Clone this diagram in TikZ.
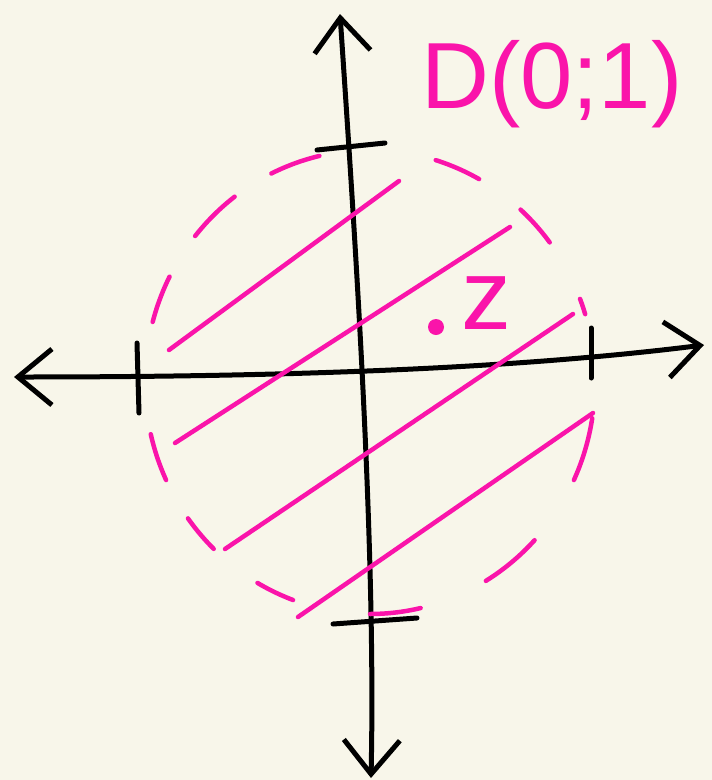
\documentclass[tikz,border=0pt]{standalone}
\usepackage{fontspec}
\setmainfont{Liberation Sans}
\usepackage{tikz}
\usetikzlibrary{arrows.meta, positioning}
\definecolor{paper}{RGB}{248,246,234}
\definecolor{pinkink}{RGB}{250,20,170}

\begin{document}
\begin{tikzpicture}[x=1pt, y=-1pt, >={Straight Barb[length=34pt, width=56pt]},
    line cap=round, line join=round,
    axis/.style={black, line width=5pt},
    ink/.style={pinkink, line width=4.5pt}]
        \fill[paper] (0,0) rectangle (712,780);
        \useasboundingbox (0,0) rectangle (712,780);
        \coordinate (xl) at (14,377);
        \coordinate (xr) at (704,345);
        \coordinate (yt) at (340,14);
        \coordinate (yb) at (371,778);
        \draw[axis, <->] (xl) .. controls (300,377) and (520,368) .. (xr);
        \draw[axis, <->] (yt) .. controls (356,250) and (376,550) .. (yb);
        % ticks
        \draw[axis] (137,343) -- (139,413); \draw[axis] (591,328) -- (591,378);
        \draw[axis] (317,150) -- (385,143); \draw[axis] (333,624) -- (417,618);
        % dashed rim of the disc
        \foreach \a/\b in {103/116, 127/141, 153/165, 193/205, 216/226, 240/250,
                           270/283, 301/317, 335/351, 17/21, 37/48, 61/73}
          \draw[ink, domain=\a:\b, smooth, samples=12] plot ({370+225*cos(\x)}, {382-232*sin(\x)});
        % hatching
        \draw[ink] (169,350) -- (399,181); \draw[ink] (175,443) -- (510,227);
        \draw[ink] (225,549) -- (573,314); \draw[ink] (298,617) -- (593,413);
        \node (zdot) [circle, fill=pinkink, inner sep=0pt, minimum size=16pt] at (436,327) {};
        \node (zlab) [text=pinkink, font=\fontsize{100}{100}\selectfont, anchor=base west] at (458,329) {z};
        \node (disc) [text=pinkink, font=\fontsize{94}{94}\selectfont, anchor=base] at (552,108) {D(0;1)};
      \end{tikzpicture}
\end{document}
